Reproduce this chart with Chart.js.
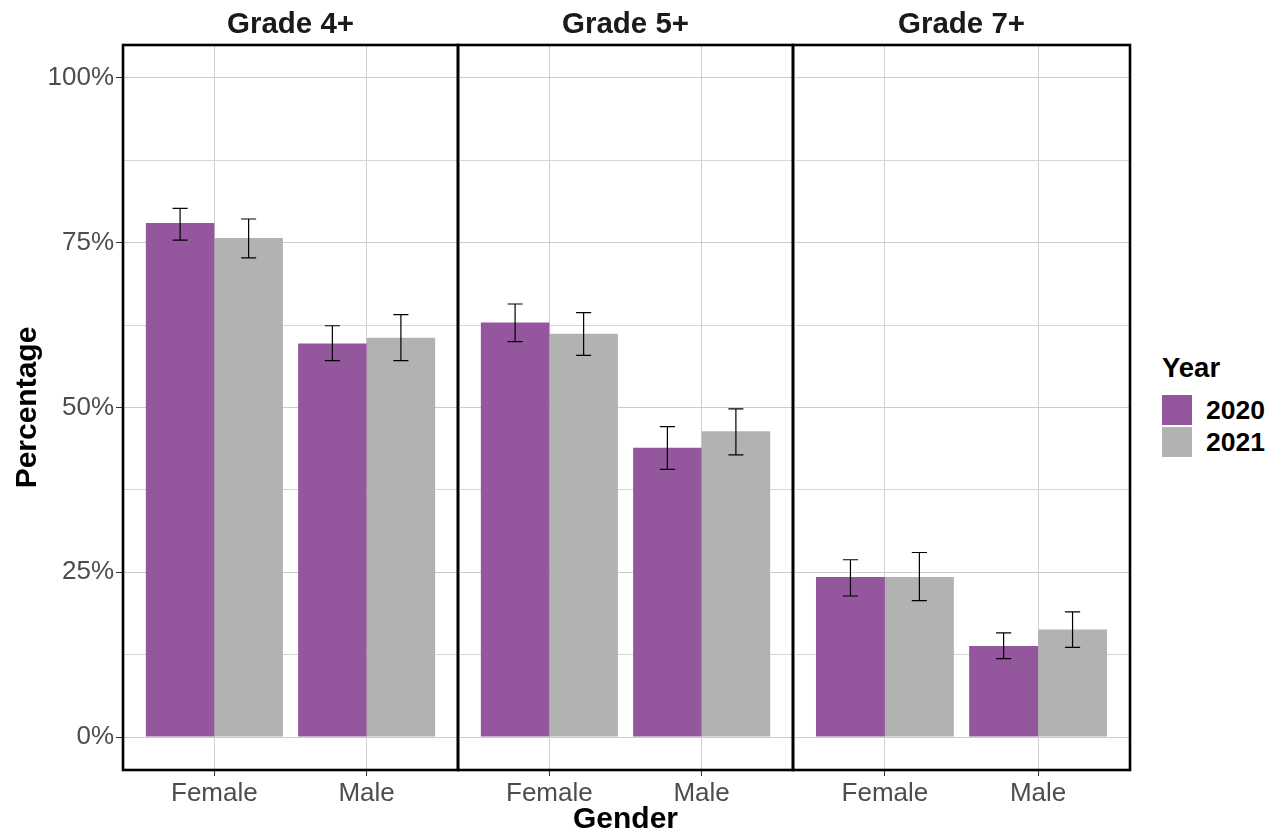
<!DOCTYPE html>
<html>
<head>
<meta charset="utf-8">
<script src="https://cdn.jsdelivr.net/npm/chart.js@4.4.1/dist/chart.umd.min.js"></script>
<style>
  body { margin: 0; background: #fff; font-family: "Liberation Sans", Arial, sans-serif; }
  #wrap { position: relative; width: 1282px; height: 835px; overflow: hidden; }
  #wrap canvas { position: absolute; top: 0; }
  #legend { position: absolute; left: 1162px; top: 352px; }
  #legend .title { font-weight: bold; font-size: 27.5px; color: #000; height: 42px; }
  #legend .item { display: flex; align-items: center; height: 32px; }
  #legend .swatch { width: 30px; height: 30px; margin-right: 14px; }
  #legend .label { font-weight: bold; font-size: 26.5px; color: #000; }
</style>
</head>
<body>
<div id="wrap">
  <canvas id="p0" width="461" height="835" style="left:0px"></canvas>
  <canvas id="p1" width="341" height="835" style="left:455px"></canvas>
  <canvas id="p2" width="343" height="835" style="left:790px"></canvas>
  <div id="legend"></div>
</div>
<script>
const panels = ["Grade 4+", "Grade 5+", "Grade 7+"];
const genders = ["Female", "Male"];
const years = ["2020", "2021"];
const yearColors = ["#94569c", "#b2b2b2"];

// one row per panel, [Female, Male]
const pct2020 = [[78.0, 59.7], [62.9, 43.9], [24.3, 13.8]];
const pct2021 = [[75.7, 60.6], [61.2, 46.4], [24.3, 16.3]];
const low2020 = [[75.4, 57.1], [60.0, 40.6], [21.4, 11.9]];
const high2020 = [[80.2, 62.4], [65.7, 47.1], [26.9, 15.8]];
const low2021 = [[72.7, 57.1], [57.9, 42.8], [20.7, 13.6]];
const high2021 = [[78.6, 64.1], [64.4, 49.8], [28.0, 19.0]];

const yTicks = [0, 12.5, 25, 37.5, 50, 62.5, 75, 87.5, 100];

const FONT = '"Liberation Sans", Arial, sans-serif';
Chart.defaults.font.family = FONT;

const errorBars = {
  id: "errorBars",
  afterDatasetsDraw(chart) {
    const ctx = chart.ctx;
    const y = chart.scales.y;
    ctx.save();
    ctx.strokeStyle = "#000";
    ctx.lineWidth = 1.2;
    chart.data.datasets.forEach((ds, di) => {
      chart.getDatasetMeta(di).data.forEach((bar, i) => {
        const r = ds.data[i];
        const yl = y.getPixelForValue(r.lo);
        const yh = y.getPixelForValue(r.hi);
        const half = bar.width * 0.11;
        ctx.beginPath();
        ctx.moveTo(bar.x, yh); ctx.lineTo(bar.x, yl);
        ctx.moveTo(bar.x - half, yh); ctx.lineTo(bar.x + half, yh);
        ctx.moveTo(bar.x - half, yl); ctx.lineTo(bar.x + half, yl);
        ctx.stroke();
      });
    });
    ctx.restore();
  }
};

const panelFrame = {
  id: "panelFrame",
  afterDraw(chart, args, opts) {
    const ctx = chart.ctx;
    const a = chart.chartArea;
    ctx.save();
    ctx.strokeStyle = "#000";
    ctx.lineWidth = 2.6;
    ctx.strokeRect(a.left, a.top, a.right - a.left, a.bottom - a.top);
    ctx.fillStyle = "#1a1a1a";
    ctx.font = "bold 29.5px " + FONT;
    ctx.textAlign = "center";
    ctx.textBaseline = "middle";
    ctx.fillText(opts.title, (a.left + a.right) / 2, a.top - 20);
    ctx.restore();
  }
};

function makePanel(p) {
  const showY = p === 0;
  const sets = [
    { vals: pct2020, lo: low2020, hi: high2020 },
    { vals: pct2021, lo: low2021, hi: high2021 }
  ];
  const datasets = sets.map((s, k) => ({
    label: years[k],
    data: genders.map((g, i) => ({ x: i + 1, y: s.vals[p][i], lo: s.lo[p][i], hi: s.hi[p][i] })),
    backgroundColor: yearColors[k],
    borderWidth: 0,
    categoryPercentage: 0.9,
    barPercentage: 1.0
  }));

  return new Chart(document.getElementById("p" + p), {
    type: "bar",
    data: { datasets },
    plugins: [errorBars, panelFrame],
    options: {
      responsive: false,
      animation: false,
      layout: { padding: { top: 45, bottom: 0, left: showY ? 0 : 3, right: 3 } },
      plugins: {
        legend: { display: false },
        tooltip: { enabled: false },
        panelFrame: { title: panels[p] }
      },
      scales: {
        x: {
          type: "linear",
          min: 0.4,
          max: 2.6,
          bounds: "data",
          offset: false,
          afterBuildTicks: (s) => { s.ticks = genders.map((g, i) => ({ value: i + 1 })); },
          afterFit: (s) => { s.height = 65; },
          ticks: {
            callback: (v) => genders[v - 1],
            color: "#4d4d4d",
            font: { size: 26 },
            padding: 2,
            maxRotation: 0,
            autoSkip: false
          },
          grid: { offset: false, color: "#d0d0d0", tickColor: "#333", tickLength: 6 },
          border: { display: false },
          title: {
            display: true,
            text: "Gender",
            color: p === 1 ? "#000" : "transparent",
            font: { size: 30, weight: "bold", lineHeight: 1 },
            padding: 0
          }
        },
        y: {
          min: -5,
          max: 105,
          afterBuildTicks: (s) => { s.ticks = yTicks.map((v) => ({ value: v })); },
          afterFit: (s) => { s.width = showY ? 123 : 0; },
          ticks: {
            display: showY,
            callback: (v) => (v % 25 === 0 ? v + "%" : ""),
            color: "#4d4d4d",
            font: { size: 26 },
            padding: 2
          },
          grid: {
            color: (c) => (c.tick && c.tick.value % 25 === 0 ? "#cccccc" : "#d6d6d6"),
            drawTicks: showY,
            tickLength: 7,
            tickColor: (c) => (c.tick && c.tick.value % 25 === 0 ? "#333" : "transparent")
          },
          border: { display: false },
          title: {
            display: showY,
            text: "Percentage",
            color: "#000",
            font: { size: 30, weight: "bold", lineHeight: 1 },
            padding: { top: 13, bottom: 0 }
          }
        }
      }
    }
  });
}

panels.forEach((name, p) => makePanel(p));

const legend = document.getElementById("legend");
legend.innerHTML = '<div class="title">Year</div>' +
  years.map((yr, k) =>
    '<div class="item"><span class="swatch" style="background:' + yearColors[k] + '"></span>' +
    '<span class="label">' + yr + '</span></div>').join("");
</script>
</body>
</html>
